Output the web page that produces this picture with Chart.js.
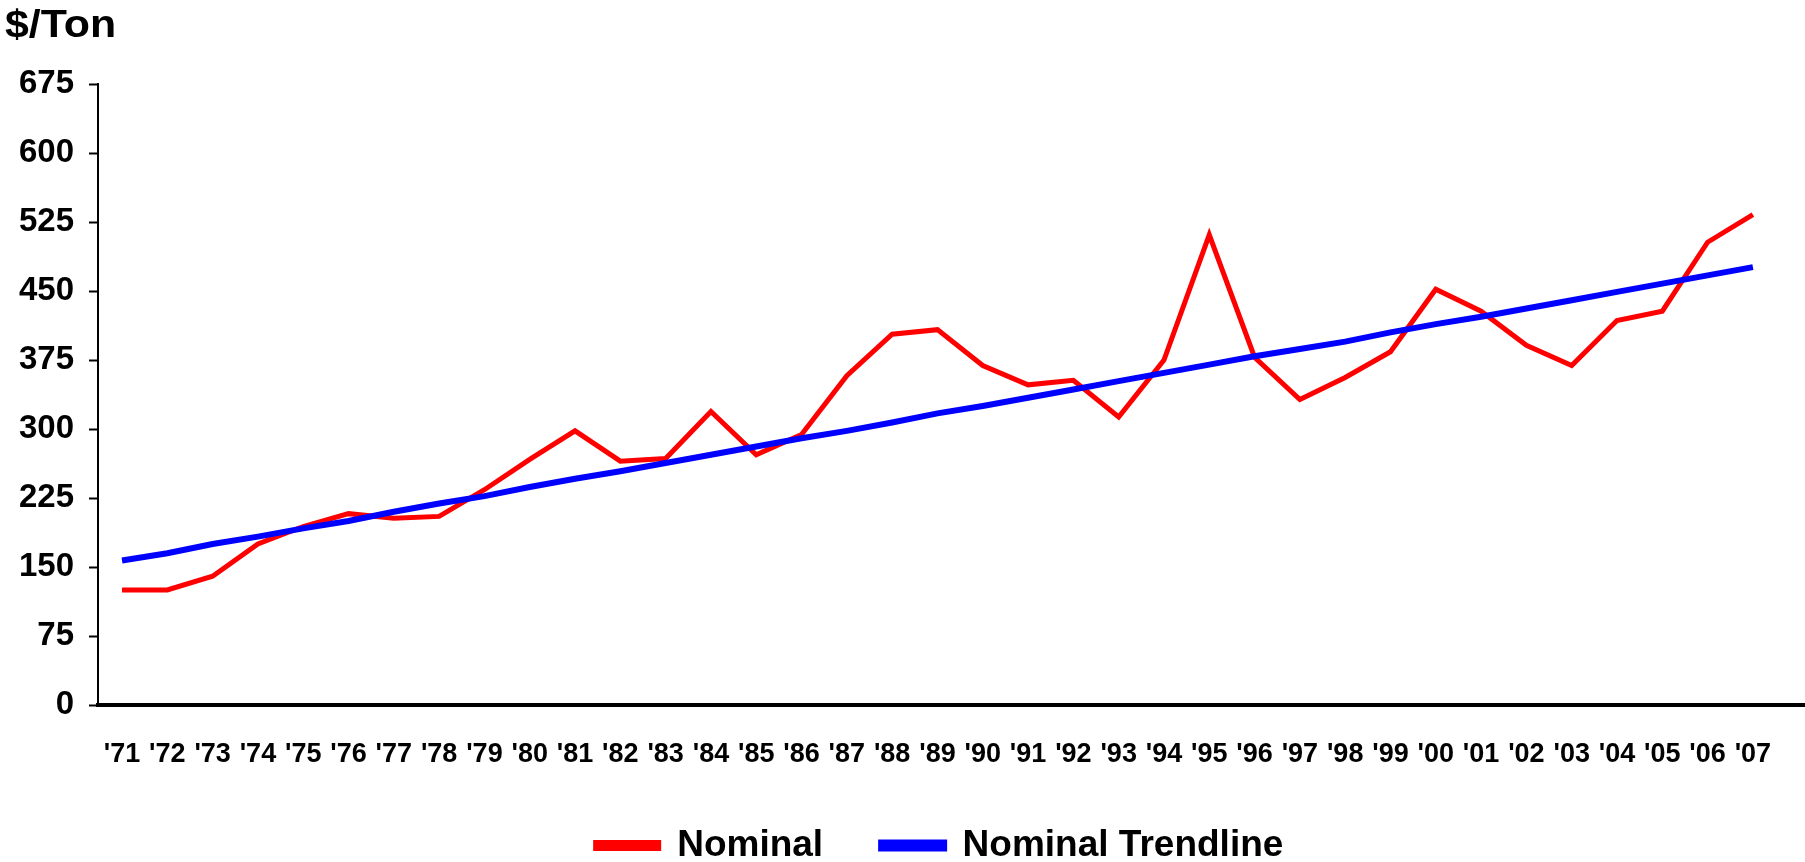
<!DOCTYPE html>
<html>
<head>
<meta charset="utf-8">
<script src="https://cdn.jsdelivr.net/npm/chart.js@4.4.1/dist/chart.umd.min.js"></script>
<style>
  html, body { margin: 0; padding: 0; background: #ffffff; }
  #wrap { width: 1805px; height: 862px; position: relative; }
</style>
</head>
<body>
<div id="wrap"><canvas id="c"></canvas></div>
<script>
// ---- data ----
const years = ["'71","'72","'73","'74","'75","'76","'77","'78","'79","'80",
               "'81","'82","'83","'84","'85","'86","'87","'88","'89","'90",
               "'91","'92","'93","'94","'95","'96","'97","'98","'99","'00",
               "'01","'02","'03","'04","'05","'06","'07"];
const nominal = [125,125,140,175,194,208,203,205,234,267,
                 298,265,268,319,272,294,358,403,408,369,
                 348,353,313,375,511,378,332,356,384,452,
                 428,391,369,418,428,503,533];
const trendline = [157,165,175,183,192,200,210,219,227,237,
                   246,254,263,272,281,290,298,307,317,325,
                   334,343,352,361,370,379,387,395,405,414,
                   422,431,440,449,458,467,476];
const yTicks = [0,75,150,225,300,375,450,525,600,675];
const unitLabel = '$/Ton';
const seriesNames = ['Nominal', 'Nominal Trendline'];

const FONT = "'Liberation Sans', Arial, Helvetica, sans-serif";

const unitTitle = {
  id: 'unitTitle',
  afterLayout(chart) {
    if (chart.legend) {
      chart.legend.left -= 12;
      chart.legend.right -= 12;
    }
  },
  afterDraw(chart) {
    const ctx = chart.ctx;
    ctx.save();
    ctx.fillStyle = '#000';
    ctx.font = 'bold 39px ' + FONT;
    ctx.textBaseline = 'alphabetic';
    ctx.textAlign = 'left';
    ctx.translate(5, 37);
    ctx.scale(1.1, 1);
    ctx.fillText(unitLabel, 0, 0);
    ctx.restore();
  }
};

new Chart(document.getElementById('c'), {
  type: 'line',
  data: {
    datasets: [
      {
        label: seriesNames[0],
        data: years.map((_, i) => ({ x: i, y: nominal[i] })),
        borderColor: '#FF0000',
        backgroundColor: '#FF0000',
        borderWidth: 5,
        pointRadius: 0,
        tension: 0,
        order: 1
      },
      {
        label: seriesNames[1],
        data: years.map((_, i) => ({ x: i, y: trendline[i] })),
        borderColor: '#0000FF',
        backgroundColor: '#0000FF',
        borderWidth: 6,
        pointRadius: 0,
        tension: 0,
        order: 0
      }
    ]
  },
  options: {
    responsive: true,
    maintainAspectRatio: false,
    animation: false,
    layout: { padding: { top: 84, left: 0, right: 0, bottom: 0 } },
    scales: {
      x: {
        type: 'linear',
        min: -0.53,
        max: 37.15,
        afterBuildTicks(scale) {
          scale.ticks = years.map((_, i) => ({ value: i }));
        },
        afterFit(scale) { scale.height = 64; },
        grid: { display: false },
        border: { display: true, color: '#000', width: 4 },
        ticks: {
          autoSkip: false,
          maxRotation: 0,
          minRotation: 0,
          padding: 25,
          color: '#000',
          font: { family: FONT, size: 27, weight: 'bold' },
          callback: (v) => years[v] !== undefined ? years[v] : ''
        }
      },
      y: {
        min: 0,
        max: 675,
        afterBuildTicks(scale) {
          scale.ticks = yTicks.map(v => ({ value: v }));
        },
        afterFit(scale) { scale.width = 98; },
        grid: {
          display: true,
          drawOnChartArea: false,
          drawTicks: true,
          tickLength: 9,
          tickColor: '#000',
          tickWidth: 2
        },
        border: { display: true, color: '#000', width: 2 },
        ticks: {
          padding: 15,
          color: '#000',
          font: { family: FONT, size: 33, weight: 'bold' }
        }
      }
    },
    plugins: {
      tooltip: { enabled: false },
      legend: {
        position: 'bottom',
        fullSize: false,
        maxHeight: 93,
        labels: {
          boxWidth: 63,
          boxHeight: 6,
          padding: 58,
          color: '#000',
          font: { family: FONT, size: 37, weight: 'bold' },
          sort: (a, b) => a.datasetIndex - b.datasetIndex
        }
      }
    }
  },
  plugins: [unitTitle]
});
</script>
</body>
</html>
